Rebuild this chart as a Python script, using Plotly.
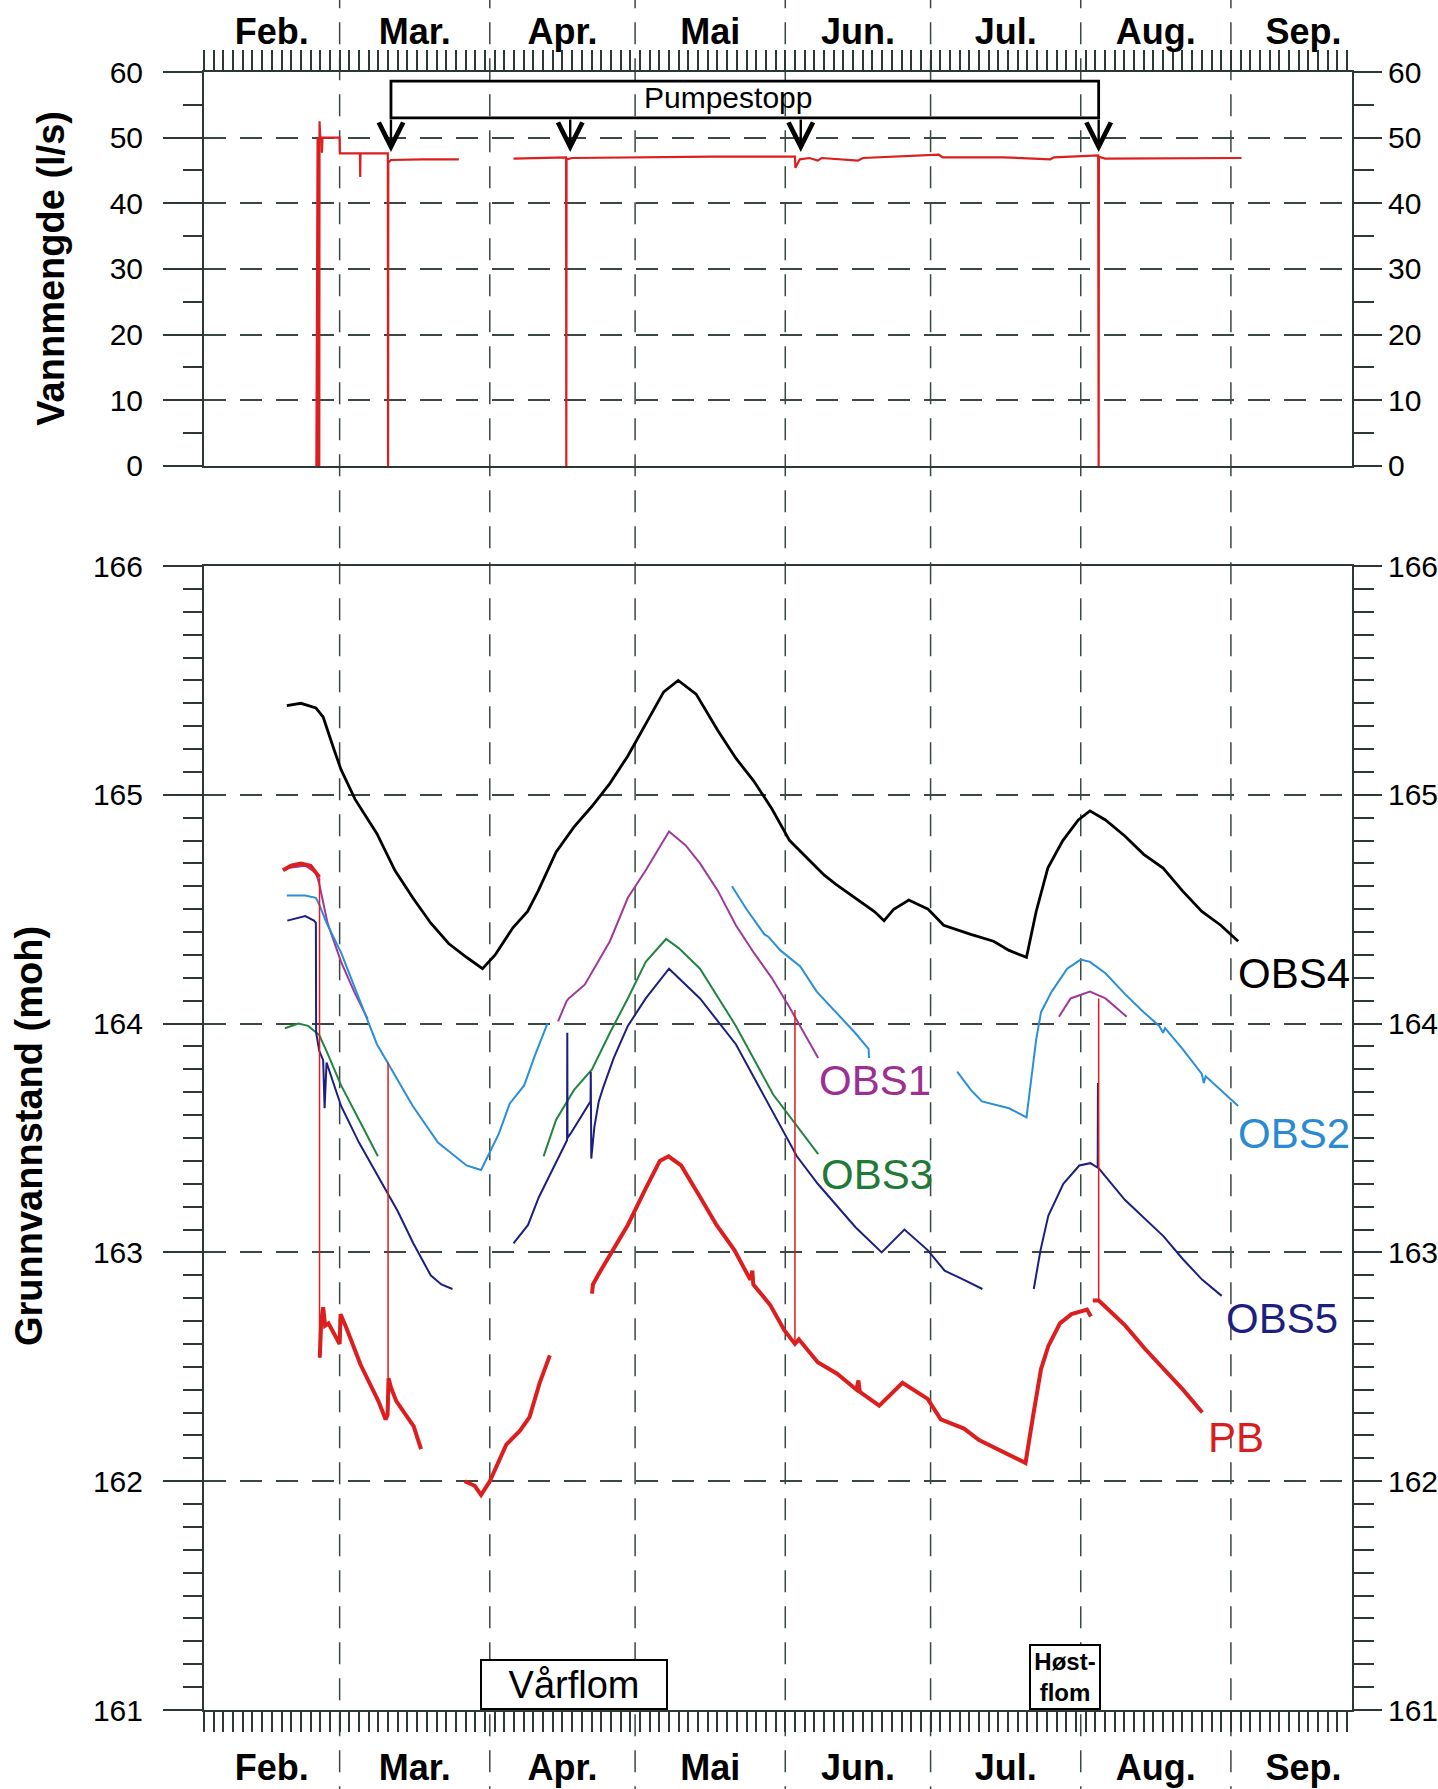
import plotly.graph_objects as go
import pandas as pd

# ---------------- data (day = days after 1 Feb) ----------------
BASE = pd.Timestamp("1999-02-01")
X_END_DAY = 237

MONTH_LABELS = ["Feb.", "Mar.", "Apr.", "Mai", "Jun.", "Jul.", "Aug.", "Sep."]

# Vannmengde (l/s) - pumped flow
FLOW = [(23.2, 0), (23.3, 50.0), (23.45, 50.0), (23.5, 0), (23.8, 0), (23.85, 52.5), (24.0, 50.0),
        (24.3, 50.0), (24.35, 47.7), (24.45, 50.0), (28.0, 50.0), (28.05, 47.6), (32.2, 47.6),
        (32.25, 44.0), (32.3, 47.6), (37.95, 47.6), (38.0, 0), (38.05, 46.2), (38.6, 46.6),
        (45.0, 46.7), (52.6, 46.7), None,
        (63.9, 46.8), (70.0, 46.9), (74.75, 47.0), (74.8, 0), (74.85, 46.7), (76.0, 46.9),
        (90.0, 47.0), (105.0, 47.1), (122.0, 47.1), (122.1, 45.4), (123.0, 46.7), (125.0, 46.9),
        (126.7, 46.5), (127.5, 46.9), (135.0, 46.5), (136.0, 46.9), (151.7, 47.4), (152.5, 47.0),
        (165.0, 47.0), (174.7, 46.7), (175.5, 47.0), (184.6, 47.3), (184.7, 0), (184.75, 47.1),
        (186.0, 46.8), (200.0, 46.8), (214.2, 46.9)]

PUMPESTOPP_DAYS = [38.6, 75.6, 123.2, 184.7]

OBS4 = [(17.1, 165.39), (20.0, 165.40), (23.1, 165.38), (24.6, 165.34), (26.8, 165.20), (28.3, 165.11),
        (31.2, 164.98), (35.7, 164.83), (39.4, 164.67), (43.1, 164.55), (46.8, 164.44), (50.5, 164.35),
        (54.2, 164.29), (57.5, 164.24), (60.1, 164.30), (63.8, 164.42), (66.8, 164.49), (69.0, 164.58),
        (72.7, 164.75), (76.4, 164.86), (80.1, 164.95), (83.8, 165.05), (87.5, 165.17), (91.2, 165.31),
        (94.9, 165.45), (97.9, 165.50), (101.6, 165.44), (106.1, 165.28), (109.8, 165.16), (113.5, 165.06),
        (117.2, 164.94), (120.9, 164.80), (124.6, 164.72), (128.0, 164.65), (130.4, 164.61), (134.4, 164.55),
        (138.4, 164.49), (140.4, 164.45), (142.4, 164.50), (145.5, 164.54), (149.5, 164.50), (152.7, 164.43),
        (158.3, 164.39), (163.0, 164.36), (166.2, 164.32), (169.8, 164.29), (171.8, 164.49), (174.2, 164.68),
        (177.3, 164.80), (180.5, 164.89), (182.9, 164.93), (186.1, 164.89), (190.1, 164.82), (194.0, 164.74),
        (198.0, 164.68), (202.0, 164.58), (206.0, 164.49), (209.9, 164.43), (213.5, 164.36)]

OBS1 = [(17.2, 164.68), (20.9, 164.69), (23.1, 164.66), (23.8, 164.61), (25.5, 164.44), (28.3, 164.27),
        (31.0, 164.14), (33.8, 164.02), None,
        (73.1, 164.01), (74.9, 164.10), (75.3, 164.11), (78.6, 164.17), (83.8, 164.36), (87.5, 164.55),
        (91.2, 164.67), (96.0, 164.84), (99.4, 164.78), (102.4, 164.70), (106.1, 164.58), (109.8, 164.43),
        (113.5, 164.31), (117.2, 164.20), (120.9, 164.07), (126.8, 163.85), None,
        (176.5, 164.03), (178.9, 164.11), (182.9, 164.14), (186.1, 164.11), (190.5, 164.03)]

OBS2 = [(17.1, 164.56), (20.9, 164.56), (23.1, 164.55), (23.8, 164.52), (25.3, 164.44), (28.3, 164.31),
        (32.0, 164.11), (35.7, 163.91), (43.1, 163.64), (48.3, 163.48), (54.2, 163.38), (57.2, 163.36),
        (60.9, 163.52), (63.1, 163.65), (66.1, 163.73), (68.3, 163.86), (70.9, 164.00), None,
        (109.0, 164.60), (112.0, 164.50), (115.7, 164.39), (116.5, 164.38), (119.0, 164.32), (123.1, 164.25),
        (126.5, 164.14), (130.4, 164.05), (134.4, 163.96), (137.2, 163.89), (137.3, 163.85), None,
        (155.5, 163.79), (158.3, 163.71), (160.6, 163.66), (166.2, 163.63), (169.8, 163.59), (170.8, 163.75),
        (171.8, 163.93), (172.8, 164.05), (175.0, 164.14), (178.2, 164.24), (181.0, 164.28), (182.9, 164.27),
        (186.1, 164.22), (190.1, 164.13), (194.0, 164.05), (197.2, 163.99), (198.0, 163.96), (198.4, 163.98),
        (202.0, 163.89), (206.0, 163.78), (206.4, 163.74), (206.8, 163.77), (209.9, 163.71), (213.5, 163.64)]

OBS3 = [(16.7, 163.98), (19.5, 164.00), (21.5, 163.99), (23.8, 163.95), (25.5, 163.87), (28.3, 163.73),
        (32.0, 163.58), (35.9, 163.42), None,
        (70.1, 163.42), (72.7, 163.58), (76.4, 163.71), (80.1, 163.80), (83.8, 163.96), (87.5, 164.11),
        (91.2, 164.27), (95.4, 164.37), (98.0, 164.33), (102.4, 164.24), (109.8, 163.99), (117.5, 163.69),
        (126.8, 163.43)]

OBS5 = [(17.2, 164.45), (20.9, 164.47), (22.7, 164.45), (23.1, 164.44), (23.15, 163.96), (23.8, 163.88),
        (24.6, 163.84), (24.9, 163.63), (25.3, 163.83), (28.3, 163.64), (32.0, 163.48), (36.0, 163.33),
        (40.0, 163.18), (43.2, 163.04), (46.8, 162.90), (49.0, 162.86), (51.3, 162.84), None,
        (63.9, 163.04), (66.9, 163.12), (69.1, 163.24), (72.8, 163.40), (74.95, 163.49), (75.0, 163.96),
        (75.05, 163.50), (75.7, 163.52), (78.7, 163.62), (79.8, 163.66), (79.85, 163.79), (79.95, 163.41),
        (80.6, 163.55), (81.5, 163.66), (82.4, 163.72), (84.6, 163.85), (87.5, 163.99), (91.2, 164.11),
        (96.0, 164.24), (102.4, 164.11), (109.8, 163.91), (117.2, 163.62), (122.4, 163.42), (126.7, 163.30),
        (134.5, 163.11), (139.9, 163.00), (144.6, 163.10), (149.4, 163.01), (152.9, 162.92), (156.9, 162.88),
        (160.7, 162.84), None,
        (171.3, 162.84), (172.7, 163.01), (174.3, 163.16), (177.4, 163.30), (180.7, 163.38), (183.0, 163.39),
        (184.5, 163.37), (184.55, 163.74), (184.6, 163.37), (190.1, 163.23), (198.1, 163.07), (202.1, 162.97),
        (206.1, 162.88), (210.1, 162.81)]

PB = [(16.3, 164.67), (18.0, 164.69), (20.0, 164.70), (22.0, 164.69), (23.1, 164.66), (23.8, 164.64), None,
      (23.9, 162.54), (24.2, 162.70), (24.6, 162.76), (25.0, 162.68), (25.7, 162.69), (27.6, 162.62),
      (28.0, 162.60), (28.2, 162.73), (29.4, 162.67), (32.3, 162.51), (36.0, 162.35), (37.5, 162.27),
      (37.9, 162.29), (38.1, 162.45), (38.6, 162.41), (39.7, 162.35), (43.3, 162.24), (44.8, 162.14), None,
      (53.8, 162.00), (55.9, 161.98), (57.2, 161.94), (58.0, 161.97), (59.0, 162.00), (62.4, 162.16),
      (65.2, 162.22), (67.2, 162.28), (69.3, 162.43), (71.4, 162.55), None,
      (80.1, 162.82), (80.3, 162.86), (81.6, 162.91), (84.5, 163.01), (87.5, 163.12), (91.2, 163.28),
      (94.1, 163.40), (95.9, 163.42), (98.5, 163.38), (102.2, 163.25), (105.8, 163.12), (109.5, 163.01),
      (112.8, 162.88), (113.2, 162.92), (113.4, 162.86), (116.9, 162.77), (119.8, 162.66), (122.0, 162.60),
      (122.8, 162.62), (126.7, 162.52), (130.7, 162.47), (134.7, 162.40), (135.1, 162.44), (135.4, 162.39),
      (139.4, 162.33), (144.2, 162.43), (149.4, 162.36), (152.1, 162.27), (156.9, 162.23), (160.0, 162.18),
      (164.8, 162.13), (169.6, 162.08), (171.2, 162.29), (172.8, 162.49), (174.3, 162.59), (176.7, 162.69),
      (179.1, 162.73), (182.3, 162.75), (183.1, 162.72), None,
      (183.5, 162.79), (184.7, 162.79), (186.2, 162.76), (190.2, 162.68), (194.2, 162.58), (198.1, 162.49),
      (202.1, 162.40), (206.1, 162.30)]

# thin spikes in PB at pump start / stops: day, low, high
PB_SPIKE_DAYS = [23.85, 38.0, 122.0, 184.7]
PB_SPIKE_LOW = [162.54, 162.29, 162.60, 162.79]
PB_SPIKE_HIGH = [164.64, 163.83, 164.06, 164.11]

# series label placement (day, level)
LABELS = [("OBS4", 213.0, 164.22, "#000000"),
          ("OBS1", 126.5, 163.75, "#9c2f92"),
          ("OBS2", 213.0, 163.52, "#2a8ad4"),
          ("OBS3", 127.0, 163.34, "#1e7a36"),
          ("OBS5", 210.6, 162.71, "#1c1f7e"),
          ("PB", 206.8, 162.19, "#d81e1e")]

COLORS = {"OBS4": "#000000", "OBS1": "#a03a9a", "OBS2": "#2a8ed8", "OBS3": "#238440",
          "OBS5": "#1c1f80", "PB": "#dc1e1e"}

# ---------------- helpers ----------------
def d2s(d):
    return (BASE + pd.Timedelta(days=d)).strftime("%Y-%m-%d %H:%M:%S")


def unzip(pairs):
    xs, ys = [], []
    for p in pairs:
        if p is None:
            xs.append(None)
            ys.append(None)
        else:
            xs.append(d2s(p[0]))
            ys.append(p[1])
    return xs, ys


months = pd.date_range("1999-02-01", periods=8, freq="MS")
month_mid = [(m + (m + pd.offsets.MonthBegin(1) - m) / 2).strftime("%Y-%m-%d %H:%M:%S") for m in months]
month_starts = [m.strftime("%Y-%m-%d") for m in months[1:]]

AX = "#2e3833"
GRID = "#3b4842"
FONT = "Liberation Sans, Arial, Helvetica, sans-serif"
DASH = "22px,14px"

fig = go.Figure()

# flow
fx, fy = unzip(FLOW)
fig.add_trace(go.Scatter(x=fx, y=fy, mode="lines", line=dict(color="#dc1e1e", width=2.2),
                         xaxis="x2", yaxis="y2", showlegend=False, hoverinfo="skip"))

widths = {"OBS4": 2.8, "OBS1": 2.0, "OBS2": 2.0, "OBS3": 2.0, "OBS5": 2.0, "PB": 4.0}
for name, data in [("OBS4", OBS4), ("OBS1", OBS1), ("OBS2", OBS2), ("OBS3", OBS3), ("OBS5", OBS5), ("PB", PB)]:
    xs, ys = unzip(data)
    fig.add_trace(go.Scatter(x=xs, y=ys, mode="lines", name=name,
                             line=dict(color=COLORS[name], width=widths[name]),
                             xaxis="x", yaxis="y", showlegend=False, hoverinfo="skip"))

sx, sy = [], []
for d, lo, hi in zip(PB_SPIKE_DAYS, PB_SPIKE_LOW, PB_SPIKE_HIGH):
    sx += [d2s(d), d2s(d), None]
    sy += [lo, hi, None]
fig.add_trace(go.Scatter(x=sx, y=sy, mode="lines", line=dict(color=COLORS["PB"], width=1.5),
                         xaxis="x", yaxis="y", showlegend=False, hoverinfo="skip"))

# empty traces so right-hand axes render
fig.add_trace(go.Scatter(x=[None], y=[None], xaxis="x", yaxis="y3", showlegend=False, hoverinfo="skip"))
fig.add_trace(go.Scatter(x=[None], y=[None], xaxis="x2", yaxis="y4", showlegend=False, hoverinfo="skip"))

xcommon = dict(type="date", range=[d2s(0), d2s(X_END_DAY)], showgrid=False, zeroline=False,
               showline=True, linecolor=AX, linewidth=2, mirror=True, automargin=False,
               tickmode="array", tickvals=month_mid, ticktext=MONTH_LABELS,
               ticks="outside", tickcolor="rgba(0,0,0,0)",
               tickfont=dict(family=FONT, size=36, color="black", weight="bold"),
               minor=dict(ticks="outside", ticklen=20, tickwidth=1.5, tickcolor=AX, tickmode="linear",
                          tick0=d2s(0), dtick=2 * 86400000, showgrid=False))

def ycommon(rng, major, minor_step, left=True):
    d = dict(range=rng, tickmode="linear", tick0=rng[0], dtick=major, ticks="outside",
             ticklen=39 if left else 28, tickwidth=2, tickcolor=AX, automargin=False,
             showline=True, linecolor=AX, linewidth=2, zeroline=False,
             tickfont=dict(family=FONT, size=30, color="black"),
             minor=dict(ticks="outside", ticklen=19 if left else 20, tickwidth=1.5, tickcolor=AX,
                        tickmode="linear", tick0=rng[0], dtick=minor_step, showgrid=False),
             ticklabelstandoff=14 if left else 0)
    if left:
        d.update(showgrid=True, gridcolor=GRID, gridwidth=1.5, griddash=DASH)
    else:
        d.update(showgrid=False)
    return d

BOT = [0, 0.6984]
TOP = [0.7595, 1.0]

fig.update_layout(
    width=1438, height=1789,
    margin=dict(l=204, r=86, t=72, b=79),
    paper_bgcolor="white", plot_bgcolor="rgba(0,0,0,0)",
    showlegend=False,
    font=dict(family=FONT, color="black"),
    xaxis=dict(**xcommon, anchor="y", side="bottom", domain=[0, 1], ticklen=20, ticklabelstandoff=5),
    xaxis2=dict(**xcommon, anchor="y2", side="top", domain=[0, 1], ticklen=12, ticklabelstandoff=0),
    yaxis=dict(**ycommon([161, 166], 1, 0.1), domain=BOT, anchor="x"),
    yaxis3=dict(**ycommon([161, 166], 1, 0.1, left=False), overlaying="y", side="right", anchor="x"),
    yaxis2=dict(**ycommon([0, 60], 10, 5), domain=TOP, anchor="x2"),
    yaxis4=dict(**ycommon([0, 60], 10, 5, left=False), overlaying="y2", side="right", anchor="x2"),
)

shapes = []
for m in month_starts:
    shapes.append(dict(type="line", xref="x", yref="paper", x0=m, x1=m, y0=-0.06, y1=1.06,
                       line=dict(color=GRID, width=1.5, dash=DASH), layer="below"))
shapes.append(dict(type="rect", xref="x2", yref="y2", x0=d2s(min(PUMPESTOPP_DAYS)), x1=d2s(max(PUMPESTOPP_DAYS)),
                   y0=53.0, y1=58.6, line=dict(color="black", width=2.8), fillcolor="rgba(0,0,0,0)", layer="above"))
fig.update_layout(shapes=shapes)

ann = []
ann.append(dict(text="<b>Vannmengde (l/s)</b>", xref="paper", yref="paper", x=-0.1329, y=0.8802,
                textangle=-90, showarrow=False, xanchor="center", yanchor="middle",
                font=dict(family=FONT, size=38, color="black")))
ann.append(dict(text="<b>Grunnvannstand (moh)</b>", xref="paper", yref="paper", x=-0.1529, y=0.3507,
                textangle=-90, showarrow=False, xanchor="center", yanchor="middle",
                font=dict(family=FONT, size=38, color="black")))
ann.append(dict(text="Pumpestopp", xref="x2", yref="y2", x=d2s(108.1), y=56.1, showarrow=False,
                xanchor="center", yanchor="middle", font=dict(family=FONT, size=30, color="black")))
for d in PUMPESTOPP_DAYS:
    ann.append(dict(text="", xref="x2", yref="y2", axref="x2", ayref="y2", x=d2s(d), y=47.8,
                    ax=d2s(d), ay=53.0, showarrow=True, arrowhead=5, arrowsize=2.0, arrowwidth=2.4,
                    arrowcolor="black", standoff=0))
ann.append(dict(text="Vårflom", xref="x", yref="y", x=d2s(76.4), y=161, yanchor="bottom", xanchor="center",
                showarrow=False, font=dict(family=FONT, size=38, color="black"),
                bordercolor="black", borderwidth=2, borderpad=0, bgcolor="white", width=184, height=47))
ann.append(dict(text="<b>Høst-<br>flom</b>", xref="x", yref="y", x=d2s(177.7), y=161, yanchor="bottom",
                xanchor="center", showarrow=False, font=dict(family=FONT, size=24, color="black"),
                bordercolor="black", borderwidth=2, borderpad=0, bgcolor="white", width=68, height=62))
for name, d, v, c in LABELS:
    ann.append(dict(text=name, xref="x", yref="y", x=d2s(d), y=v, xanchor="left", yanchor="middle",
                    showarrow=False, font=dict(family=FONT, size=42, color=c)))
fig.update_layout(annotations=ann)

fig.write_html("out.html", config={"displayModeBar": False},
               post_script="document.body.style.margin='0';document.body.style.overflow='hidden';")
